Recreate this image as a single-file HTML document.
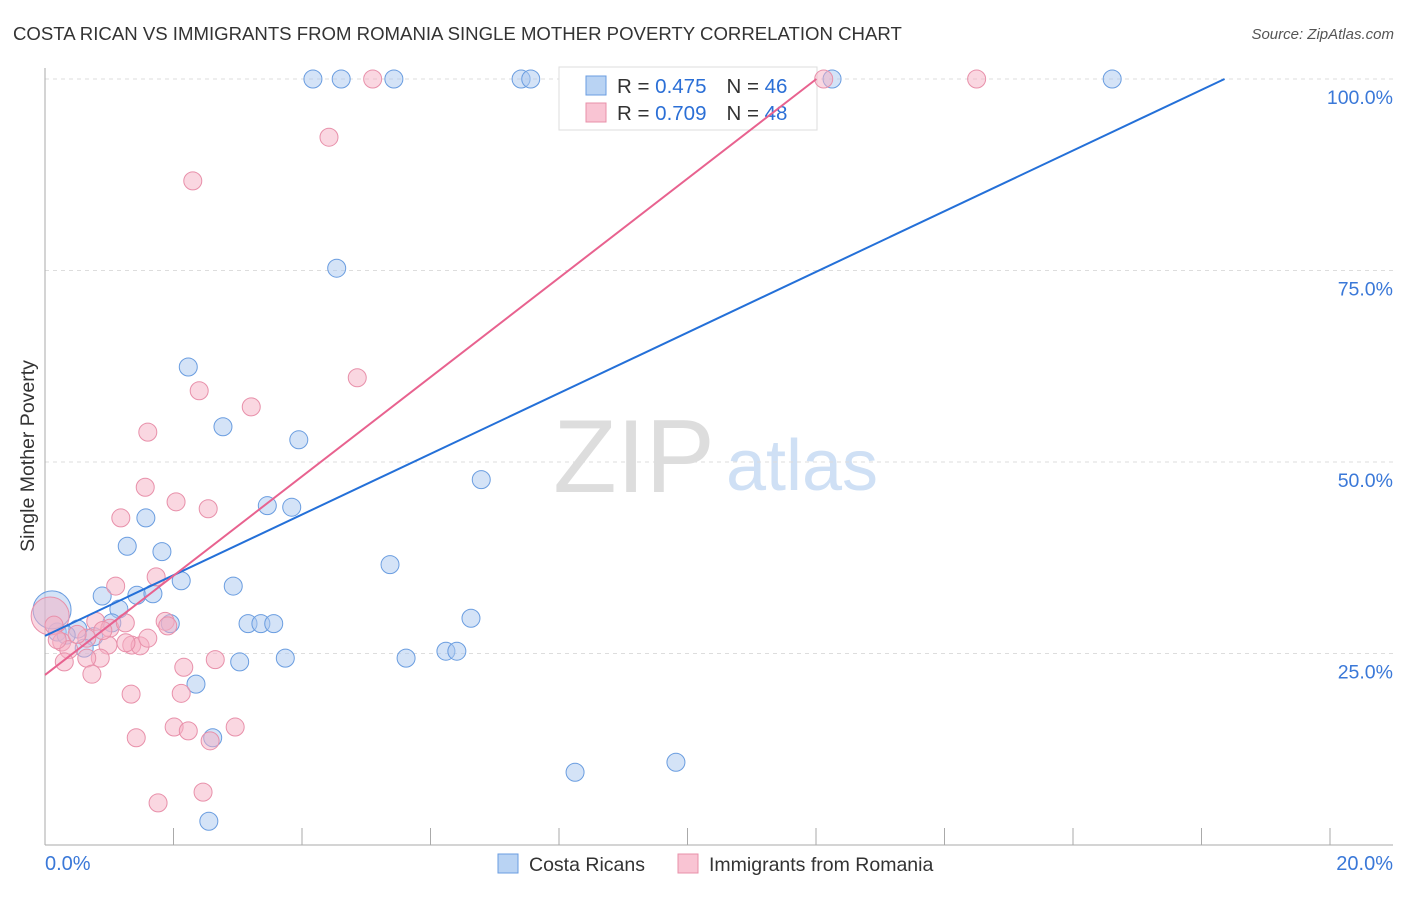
<!DOCTYPE html>
<html><head><meta charset="utf-8"><style>
body{margin:0;background:#fff;font-family:"Liberation Sans",sans-serif;}
svg text{font-family:"Liberation Sans",sans-serif;}
</style></head><body>
<svg id="c" width="1406" height="892">
<text x="13" y="40" font-size="18.6" fill="#333">COSTA RICAN VS IMMIGRANTS FROM ROMANIA SINGLE MOTHER POVERTY CORRELATION CHART</text>
<text x="1394" y="39" font-size="15" fill="#555" font-style="italic" text-anchor="end">Source: ZipAtlas.com</text>
<text x="34" y="456" font-size="19.5" fill="#333" text-anchor="middle" transform="rotate(-90 34 456)">Single Mother Poverty</text>
<g><text x="634" y="492" font-size="104" fill="#ddd" font-family="Liberation Serif" text-anchor="middle">ZIP</text><text x="802" y="490" font-size="72" fill="#cfe0f5" text-anchor="middle">atlas</text></g>
<g id="grid"></g>
<g>
<rect x="559" y="67" width="258" height="63" fill="#fff" stroke="#ddd"/>
<rect x="586" y="76" width="20" height="19" fill="#b9d3f3" stroke="#6a9de0"/>
<rect x="586" y="103" width="20" height="19" fill="#f9c4d3" stroke="#e890aa"/>
<text x="617" y="93" font-size="20.5" fill="#333">R = <tspan fill="#2b6fd6">0.475</tspan><tspan dx="20">N = </tspan><tspan fill="#2b6fd6">46</tspan></text>
<text x="617" y="120" font-size="20.5" fill="#333">R = <tspan fill="#2b6fd6">0.709</tspan><tspan dx="20">N = </tspan><tspan fill="#2b6fd6">48</tspan></text>
</g>
<g id="marks"></g>
<g>
<rect x="498" y="854" width="20" height="19" fill="#b9d3f3" stroke="#6a9de0"/>
<text x="529" y="871" font-size="19.5" fill="#333">Costa Ricans</text>
<rect x="678" y="854" width="20" height="19" fill="#f9c4d3" stroke="#e890aa"/>
<text x="709" y="871" font-size="19.5" fill="#333">Immigrants from Romania</text>
</g>
</svg>
<script>
const xTicks=[0,2,4,6,8,10,12,14,16,18,20];
const yTicks=[25,50,75,100];
const blueX=[4.17,4.61,5.43,7.41,7.56,12.25,16.61,4.54,2.23,2.77,3.95,6.79,3.46,3.84,1.57,1.28,1.82,5.37,2.12,2.93,0.89,1.43,1.68,1.15,6.63,1.04,1.95,3.16,3.36,3.56,0.19,0.51,0.76,0.33,0.61,6.24,6.41,3.03,3.74,5.62,2.35,2.61,8.25,9.82,2.55,0.11];
const blueY=[100,100,100,100,100,100,100,75.3,62.4,54.6,52.9,47.7,44.3,44.1,42.7,39.0,38.3,36.6,34.5,33.8,32.5,32.6,32.8,30.8,29.6,29.0,28.9,28.9,28.9,28.9,27.8,28.2,27.2,27.4,25.7,25.3,25.3,23.9,24.4,24.4,21.0,14.0,9.5,10.8,3.1,30.7];
const pinkX=[5.1,12.12,14.5,4.42,2.3,4.86,2.4,3.21,1.6,1.56,2.04,2.54,1.18,1.1,1.73,0.08,0.14,0.79,1.01,1.25,1.87,1.91,0.26,0.37,0.65,0.19,0.98,1.35,1.48,1.26,0.86,0.65,0.3,0.73,2.65,2.16,2.12,1.34,2.01,2.96,2.23,1.42,2.57,1.76,2.46,0.5,0.9,1.6];
const pinkY=[100,100,100,92.4,86.7,61.0,59.3,57.2,53.9,46.7,44.8,43.9,42.7,33.8,35.0,29.9,28.7,29.2,28.3,29.0,29.2,28.6,26.5,25.5,27.0,26.8,26.1,26.1,26.0,26.4,24.4,24.4,23.9,22.3,24.2,23.2,19.8,19.7,15.4,15.4,14.9,14.0,13.6,5.5,6.9,27.5,28.0,27.0];
const blueTrend=[27.3,3.96];
const pinkTrend=[22.2,6.48];
const sx=v=>45+v*64.25, sy=v=>845-v*7.66;
const NS='http://www.w3.org/2000/svg';
function mk(t,a,p){const e=document.createElementNS(NS,t);for(const k in a)e.setAttribute(k,a[k]);p.appendChild(e);return e;}
const g=document.getElementById('grid'), m=document.getElementById('marks');
yTicks.forEach(v=>{
 const l=mk('line',{x1:45,x2:1393,y1:sy(v),y2:sy(v),stroke:'#ddd','stroke-dasharray':'4,4'},g);
 
 
 const t=mk('text',{x:1393,y:sy(v)+25,'font-size':19.5,fill:'#3a78d8','text-anchor':'end'},g);
 t.textContent=v.toFixed(1)+'%';
 
 
});
mk('line',{x1:45,x2:45,y1:68,y2:845,stroke:'#aaa'},g);
mk('line',{x1:45,x2:1393,y1:845,y2:845,stroke:'#aaa'},g);
xTicks.forEach(v=>{
 const l=mk('line',{x1:sx(v),x2:sx(v),y1:828,y2:845,stroke:'#aaa'},g);
 
 
});
[[0,'start',45],[20,'end',1393]].forEach(([v,a,x])=>{
 const t=mk('text',{x:x,y:870,'font-size':20,fill:'#3a78d8','text-anchor':a},g);
 t.textContent=v.toFixed(1)+'%';
 
 
});
function pts(X,Y,fill,stroke,name){
 X.forEach((x,i)=>{
  const big=(i===X.length-1&&name==='costa-rican-point')||(i===15&&name==='romania-point');
  const c=mk('circle',{cx:sx(x),cy:sy(Y[i]),r:big?19:9,fill:fill,'fill-opacity':0.5,stroke:stroke,'stroke-width':1},m);
  
  
 });
}
pts(blueX,blueY,'#a9c8f0','#6a9de0','costa-rican-point');
pts(pinkX,pinkY,'#f5b0c4','#e890aa','romania-point');
function trend(tr,col,name){
 const x2=(100-tr[0])/tr[1];
 const l=mk('line',{x1:sx(0),y1:sy(tr[0]),x2:sx(x2),y2:sy(100),stroke:col,'stroke-width':2},m);
 
 
}
trend(blueTrend,'#2470d8','costa-rican-trendline');
trend(pinkTrend,'#e8628f','romania-trendline');
</script>
</body></html>
